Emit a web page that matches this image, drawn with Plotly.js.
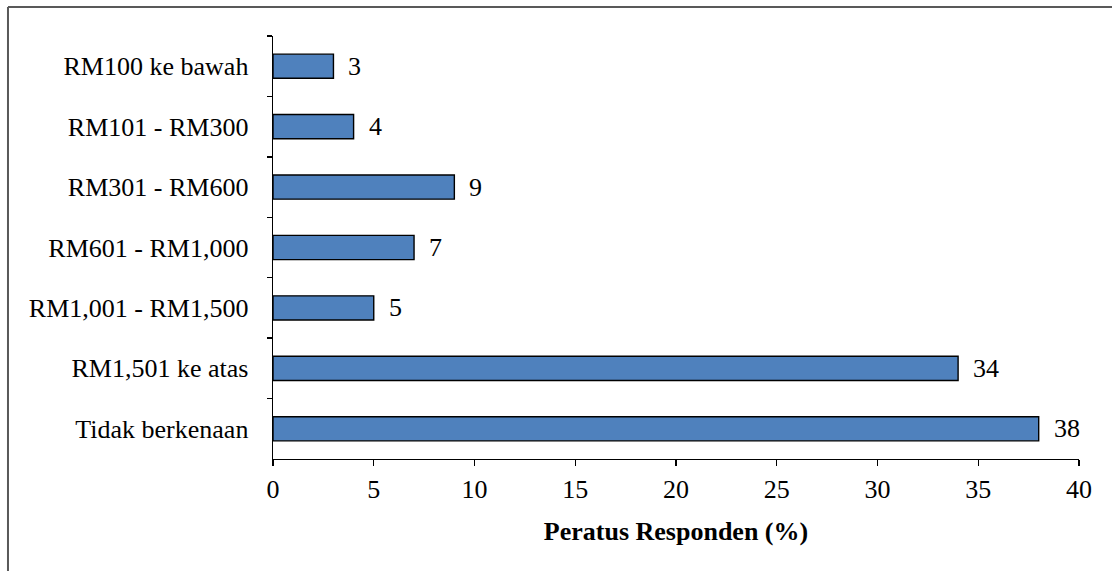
<!DOCTYPE html>
<html>
<head>
<meta charset="utf-8">
<script src="https://cdn.plot.ly/plotly-3.0.1.min.js"></script>
<style>html,body{margin:0;padding:0;background:#fff;}#chart{width:1112px;height:571px;}</style>
</head>
<body>
<div id="chart"></div>
<script>
const categories = ["RM100 ke bawah", "RM101 - RM300", "RM301 - RM600", "RM601 - RM1,000", "RM1,001 - RM1,500", "RM1,501 ke atas", "Tidak berkenaan"];
const values = [3, 4, 9, 7, 5, 34, 38];
const xTicks = [0, 5, 10, 15, 20, 25, 30, 35, 40];

const font = "'Liberation Serif', 'Times New Roman', serif";
const fs = 26;

const trace = {
  type: "bar",
  orientation: "h",
  y: categories,
  x: values,
  width: 0.4,
  marker: {color: "#4F81BD", line: {color: "#000000", width: 1.4}},
  hoverinfo: "skip"
};

const annotations = categories.map((c, i) => ({
  x: values[i], y: c, xref: "x", yref: "y",
  text: String(values[i]), showarrow: false,
  xanchor: "left", yanchor: "middle", xshift: 13,
  font: {family: font, size: fs, color: "#000"}
}));

const layout = {
  width: 1112, height: 571,
  margin: {l: 273, r: 33, t: 36, b: 112},
  paper_bgcolor: "#fff", plot_bgcolor: "#fff",
  showlegend: false,
  font: {family: font, size: fs, color: "#000"},
  xaxis: {
    range: [0, 40], tickvals: xTicks, ticktext: xTicks.map(String),
    showline: true, linecolor: "#000", linewidth: 1.4,
    ticks: "outside", ticklen: 6, tickcolor: "#000", tickwidth: 1.4,
    showgrid: false, zeroline: false,
    tickfont: {family: font, size: fs, color: "#000"},
    title: {text: "<b>Peratus Responden (%)</b>", font: {family: font, size: fs, color: "#000"}, standoff: 19}
  },
  yaxis: {
    type: "category", autorange: "reversed",
    showline: true, linecolor: "#000", linewidth: 1.4,
    ticks: "outside", ticklen: 5, tickcolor: "#000", tickwidth: 1.4,
    tickson: "boundaries",
    showgrid: false, zeroline: false,
    tickfont: {family: font, size: fs, color: "#000"},
    ticklabelstandoff: 18
  },
  annotations: annotations,
  shapes: [
    {type: "line", xref: "paper", yref: "paper", x0: -0.3288, x1: -0.3288, y0: 1.0686, y1: -0.4, line: {color: "#595959", width: 2}},
    {type: "line", xref: "paper", yref: "paper", x0: -0.3288, x1: 1.2, y0: 1.0686, y1: 1.0686, line: {color: "#595959", width: 2}}
  ]
};

Plotly.newPlot("chart", [trace], layout, {displayModeBar: false, staticPlot: true});
</script>
</body>
</html>
